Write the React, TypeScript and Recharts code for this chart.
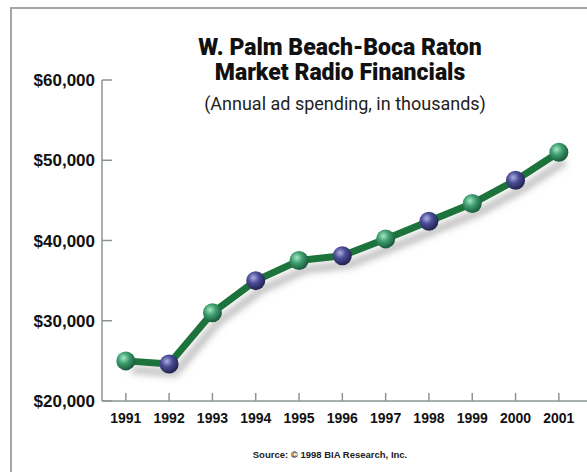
import React from "react";
import { LineChart, Line, XAxis, YAxis } from "recharts";

// W. Palm Beach-Boca Raton radio ad spending, $ thousands
const years = [1991, 1992, 1993, 1994, 1995, 1996, 1997, 1998, 1999, 2000, 2001];
const spending = [25000, 24600, 31000, 35000, 37500, 38100, 40200, 42400, 44600, 47500, 51000];
const yTicks = [20000, 30000, 40000, 50000, 60000];

const data = years.map((year, i) => ({ year, spending: spending[i] }));

const W = 587, H = 472;
const axisGray = "#8a9494";

function Ball(props: any) {
  const { cx, cy, index } = props;
  if (cx == null || cy == null) return null;
  const g = index % 2 === 0 ? "ballGreen" : "ballBlue";
  return <circle key={index} cx={cx} cy={cy} r={9.5} fill={`url(#${g})`} />;
}

const money = (v: number) => "$" + v.toLocaleString("en-US");

export default function App() {
  return (
    <div style={{ position: "fixed", left: 0, top: 0, width: W, height: H, background: "#fff", overflow: "hidden" }}>
      <style>{`.radio-line { filter: url(#lineShadow); }`}</style>
      <svg width={0} height={0} style={{ position: "absolute" }}>
        <defs>
          <radialGradient id="ballGreen" cx="38%" cy="35%" r="65%">
            <stop offset="0%" stopColor="#a6e8c4" />
            <stop offset="45%" stopColor="#3f9f70" />
            <stop offset="100%" stopColor="#1a5a3c" />
          </radialGradient>
          <radialGradient id="ballBlue" cx="38%" cy="35%" r="65%">
            <stop offset="0%" stopColor="#adaee6" />
            <stop offset="45%" stopColor="#4b4e96" />
            <stop offset="100%" stopColor="#222250" />
          </radialGradient>
          <filter id="lineShadow" x="-10%" y="-10%" width="130%" height="150%">
            <feDropShadow dx="6" dy="9" stdDeviation="3.5" floodColor="#808080" floodOpacity="0.55" />
          </filter>
        </defs>
      </svg>

      {/* frame */}
      <div style={{ position: "absolute", left: 10, top: 7, width: W, height: H, borderTop: "2px solid #a2a6a6", borderLeft: "2px solid #a2a6a6" }} />

      <div style={{ position: "absolute", left: 0, top: 0 }}>
        <LineChart width={W} height={H} data={data} margin={{ top: 80, right: 0, left: 0, bottom: 41 }}>
          <XAxis
            dataKey="year" type="number" domain={[1990.45, 2001.65]} ticks={years} allowDataOverflow
            height={30} stroke={axisGray} strokeWidth={1.5} tickSize={-8} tickMargin={20}
            tick={{ fill: "#111", fontSize: 14, fontWeight: 700, fontFamily: "'Liberation Sans', Arial, sans-serif" }}
          />
          <YAxis
            domain={[20000, 60000]} ticks={yTicks} width={102} tickFormatter={money}
            stroke={axisGray} strokeWidth={1.5} tickSize={-10} tickMargin={17}
            tick={{ fill: "#111", fontSize: 17, fontWeight: 700, fontFamily: "'Liberation Sans', Arial, sans-serif" }}
          />
          <Line
            className="radio-line" type="linear" dataKey="spending" stroke="#1d733a" strokeWidth={7}
            strokeLinejoin="round" dot={<Ball />} activeDot={false} isAnimationActive={false}
          />
        </LineChart>
      </div>

      <div style={{ position: "absolute", left: 140, width: 400, top: 35, textAlign: "center", fontFamily: "Roboto, sans-serif", fontWeight: 900, fontSize: 23, lineHeight: "25px", color: "#111" }}>
        W. Palm Beach-Boca Raton<br />Market Radio Financials
      </div>
      <div style={{ position: "absolute", left: 145, width: 400, top: 93, textAlign: "center", fontFamily: "Roboto, sans-serif", fontSize: 18, color: "#222" }}>
        (Annual ad spending, in thousands)
      </div>
      <div style={{ position: "absolute", left: 130, width: 400, top: 449, textAlign: "center", fontFamily: "'Liberation Sans', Arial, sans-serif", fontWeight: 700, fontSize: 9.5, color: "#222" }}>
        Source: © 1998 BIA Research, Inc.
      </div>
    </div>
  );
}
